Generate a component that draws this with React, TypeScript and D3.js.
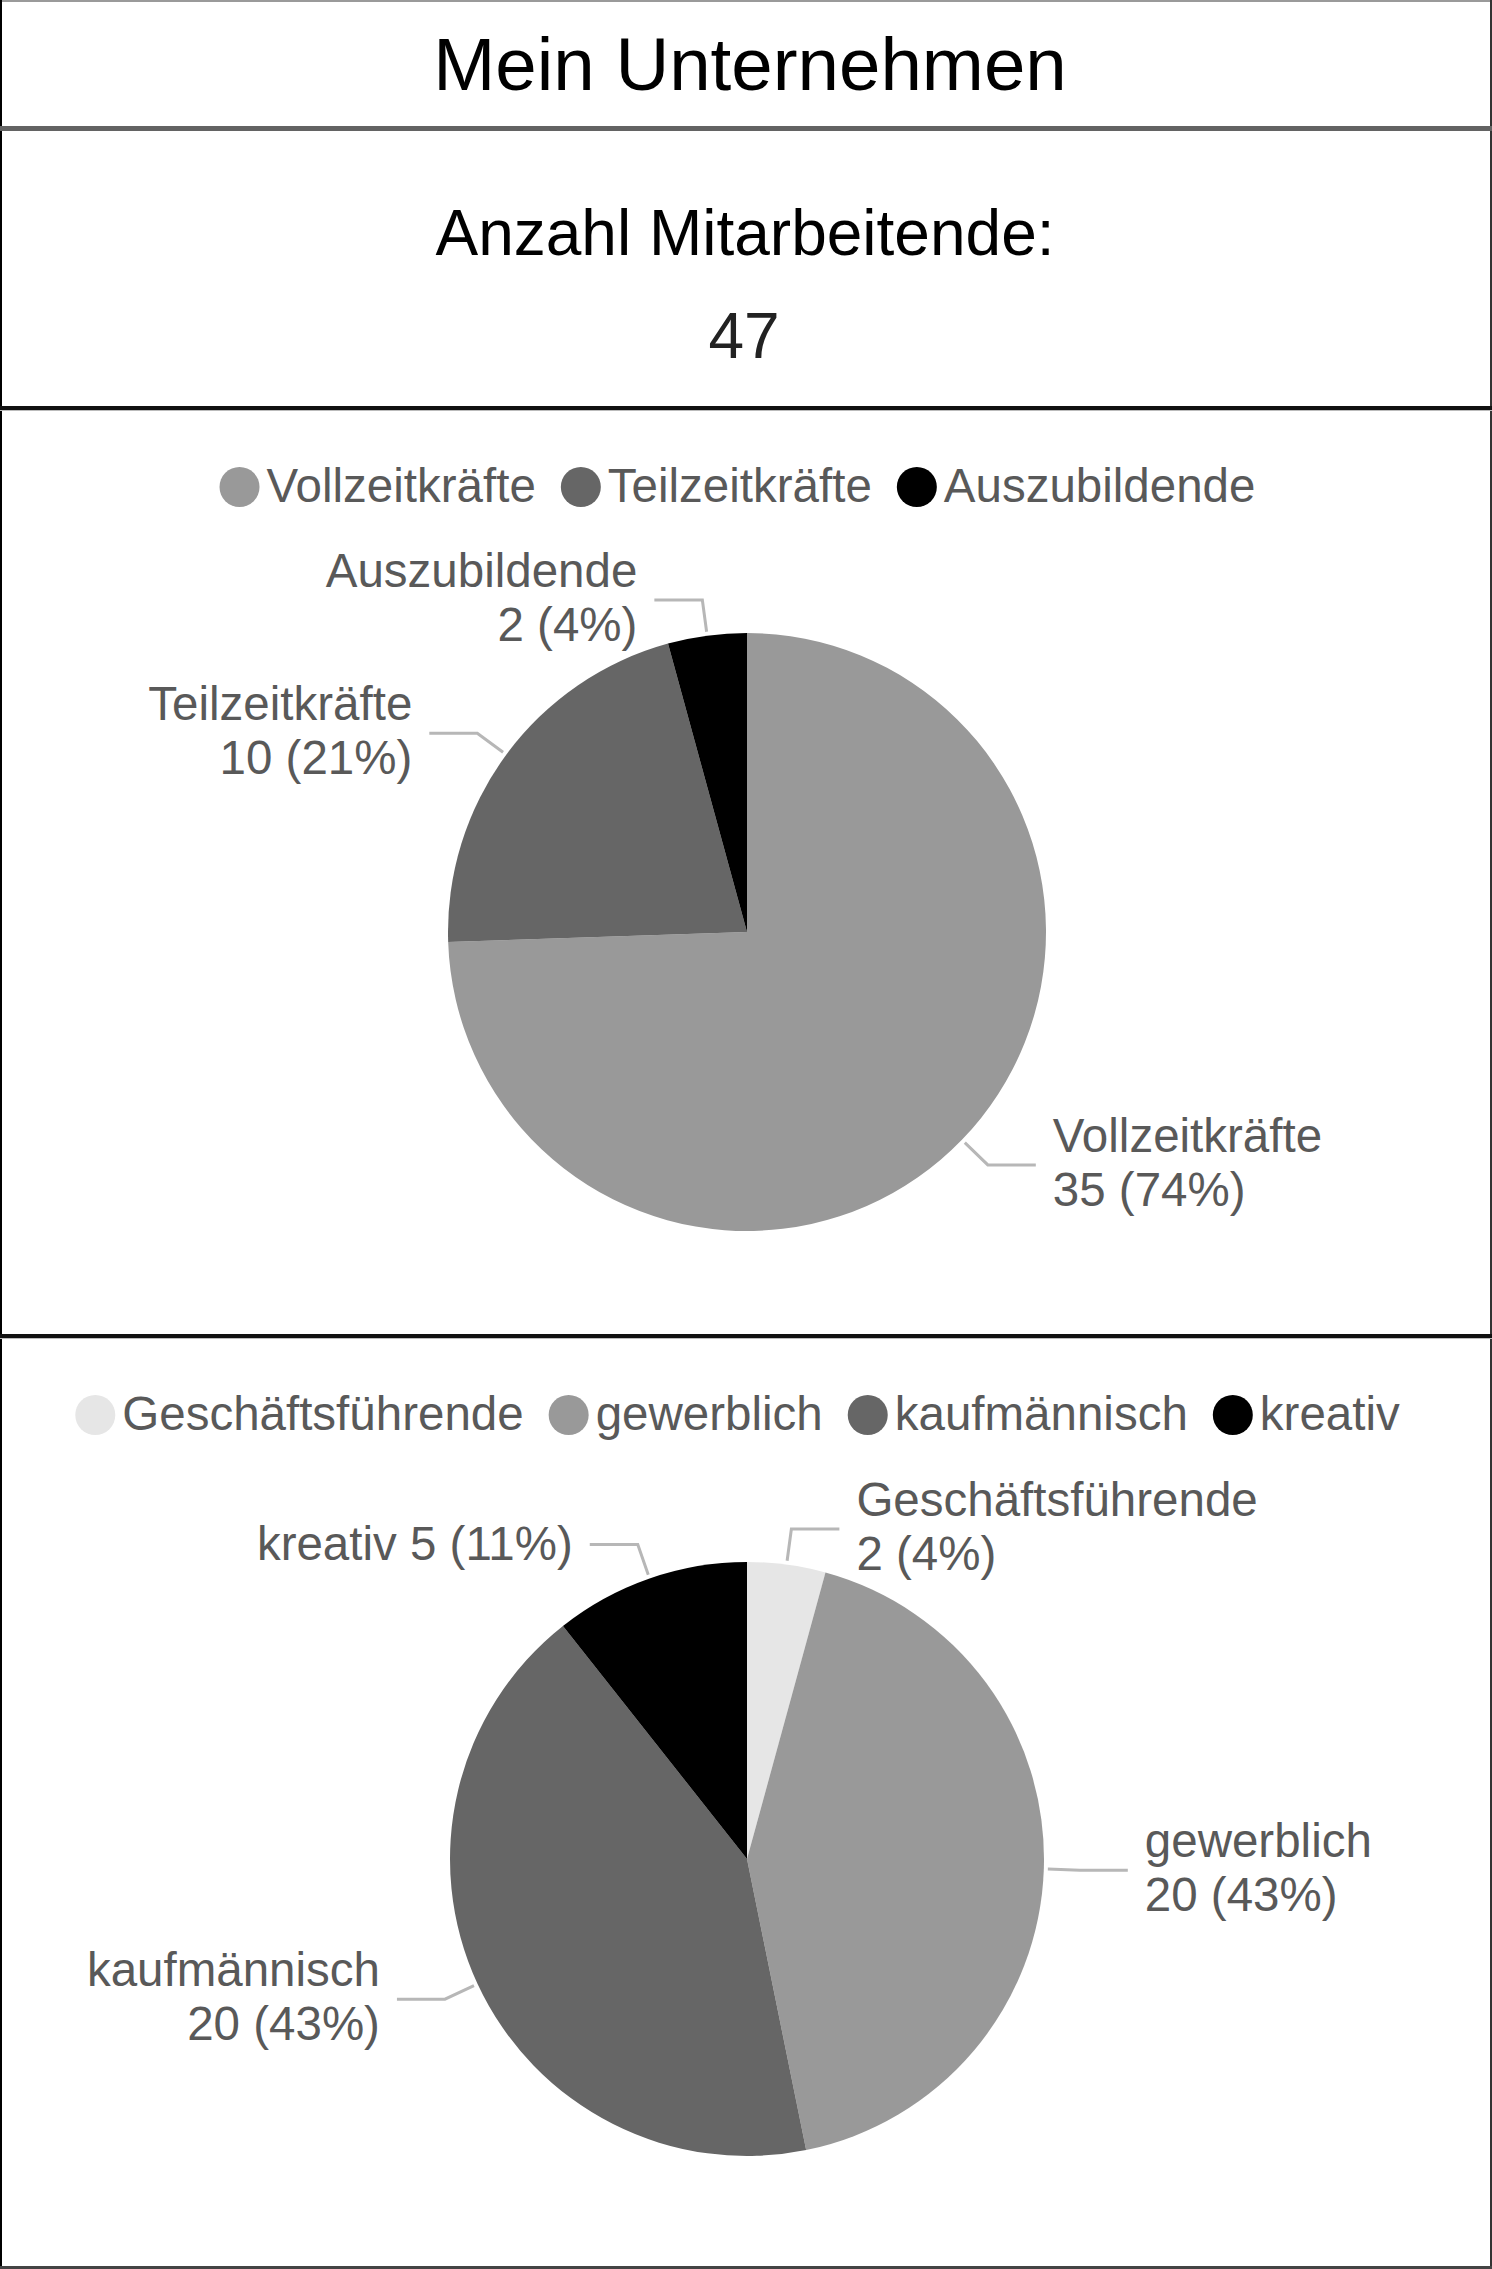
import React, { useEffect, useRef } from "react";
import * as d3 from "d3";

// ---- data ----
const titleText = "Mein Unternehmen";
const headcountLabel = "Anzahl Mitarbeitende:";
const headcount = 47;

const chart1Categories = ["Vollzeitkräfte", "Teilzeitkräfte", "Auszubildende"];
const chart1Values = [35, 10, 2];
const chart1Colors = ["#999999", "#666666", "#000000"];

const chart2Categories = ["Geschäftsführende", "gewerblich", "kaufmännisch", "kreativ"];
const chart2Values = [2, 20, 20, 5];
const chart2Colors = ["#e6e6e6", "#999999", "#666666", "#000000"];

// ---- layout ----
const W = 1492;
const H = 2269;
const FONT = "'Liberation Sans', Arial, Helvetica, sans-serif";
const TEXT_GRAY = "#595959";
const LEADER = "#b7b7b7";

export default function App() {
  const ref = useRef<SVGSVGElement | null>(null);

  useEffect(() => {
    const svg = d3.select(ref.current);
    svg.selectAll("*").remove();

    svg.append("rect").attr("x", 0).attr("y", 0).attr("width", W).attr("height", H).attr("fill", "#fff");

    // header texts
    svg.append("text").attr("x", 750).attr("y", 90).attr("text-anchor", "middle")
      .attr("font-family", FONT).attr("font-size", 74.5).attr("fill", "#000").text(titleText);
    svg.append("text").attr("x", 745).attr("y", 255).attr("text-anchor", "middle")
      .attr("font-family", FONT).attr("font-size", 64).attr("fill", "#000").text(headcountLabel);
    svg.append("text").attr("x", 744).attr("y", 358).attr("text-anchor", "middle")
      .attr("font-family", FONT).attr("font-size", 64).attr("fill", "#222").text(String(headcount));

    // borders & separators
    svg.append("rect").attr("x", 0).attr("y", 0).attr("width", W).attr("height", 2).attr("fill", "#9a9a9a");
    svg.append("rect").attr("x", 0).attr("y", 0).attr("width", 2).attr("height", H).attr("fill", "#000");
    svg.append("rect").attr("x", W - 2).attr("y", 0).attr("width", 2).attr("height", H).attr("fill", "#333");
    svg.append("rect").attr("x", 0).attr("y", H - 3).attr("width", W).attr("height", 3).attr("fill", "#444");
    svg.append("rect").attr("x", 0).attr("y", 126).attr("width", W).attr("height", 5).attr("fill", "#636363");
    svg.append("rect").attr("x", 0).attr("y", 406).attr("width", W).attr("height", 4).attr("fill", "#111");
    svg.append("rect").attr("x", 0).attr("y", 410).attr("width", W).attr("height", 1).attr("fill", "#bbb");
    svg.append("rect").attr("x", 0).attr("y", 1334).attr("width", W).attr("height", 4).attr("fill", "#111");
    svg.append("rect").attr("x", 0).attr("y", 1338).attr("width", W).attr("height", 1).attr("fill", "#bbb");

    const drawPie = (
      cats: string[], vals: number[], colors: string[],
      cx: number, cy: number, R: number, legendY: number, legendCx: number
    ) => {
      const total = d3.sum(vals);
      const data = cats.map((c, i) => ({ name: c, value: vals[i], color: colors[i] }));
      const pie = d3.pie<any>().sort(null).value((d: any) => d.value);
      const arcs = pie(data);
      const arc = d3.arc<any>().innerRadius(0).outerRadius(R);
      const g = svg.append("g").attr("transform", `translate(${cx},${cy})`);
      g.selectAll("path").data(arcs).enter().append("path")
        .attr("d", arc as any).attr("fill", (d: any) => d.data.color);

      // labels with leader lines
      const fs = 47.5;
      arcs.forEach((a: any) => {
        const m = (a.startAngle + a.endAngle) / 2;
        const sx = Math.sin(m), sy = -Math.cos(m);
        const right = sx >= 0;
        const r0 = R + 4, r1 = R + 36;
        const ex = r1 * sx, ey = r1 * sy;
        const hx = ex + (right ? 48 : -48);
        g.append("path")
          .attr("d", d3.line()([[r0 * sx, r0 * sy], [ex, ey], [hx, ey]]) as string)
          .attr("fill", "none").attr("stroke", LEADER).attr("stroke-width", 3);
        const pct = Math.round((a.data.value / total) * 100);
        const valText = `${a.data.value} (${pct}%)`;
        const lines = a.data.name.length > 8 ? [a.data.name, valText] : [`${a.data.name} ${valText}`];
        const tx = hx + (right ? 17 : -17);
        const t = g.append("text").attr("font-family", FONT).attr("font-size", fs)
          .attr("fill", TEXT_GRAY).attr("text-anchor", right ? "start" : "end");
        if (lines.length === 2) {
          t.append("tspan").attr("x", tx).attr("y", ey - 13).text(lines[0]);
          t.append("tspan").attr("x", tx).attr("y", ey + 41).text(lines[1]);
        } else {
          t.append("tspan").attr("x", tx).attr("y", ey + 16).text(lines[0]);
        }
      });

      // legend
      const lg = svg.append("g");
      const items: { w: number; node: any; circle: any }[] = [];
      data.forEach((d) => {
        const circle = lg.append("circle").attr("r", 20).attr("fill", d.color);
        const node = lg.append("text").attr("font-family", FONT).attr("font-size", fs)
          .attr("fill", TEXT_GRAY).attr("y", legendY).text(d.name);
        const w = (node.node() as SVGTextElement).getComputedTextLength();
        items.push({ w, node, circle });
      });
      const itemW = (it: { w: number }) => 46 + it.w;
      const gap = 26;
      const totalW = d3.sum(items, itemW) + gap * (items.length - 1);
      let x = legendCx - totalW / 2;
      items.forEach((it) => {
        it.circle.attr("cx", x + 19).attr("cy", legendY - 15);
        it.node.attr("x", x + 46);
        x += itemW(it) + gap;
      });
    };

    drawPie(chart1Categories, chart1Values, chart1Colors, 747, 932, 299, 502, 738);
    drawPie(chart2Categories, chart2Values, chart2Colors, 747, 1859, 297, 1430, 738);
  }, []);

  return (
    <svg
      ref={ref}
      width={W}
      height={H}
      style={{ position: "absolute", left: 0, top: 0, display: "block" }}
    />
  );
}
